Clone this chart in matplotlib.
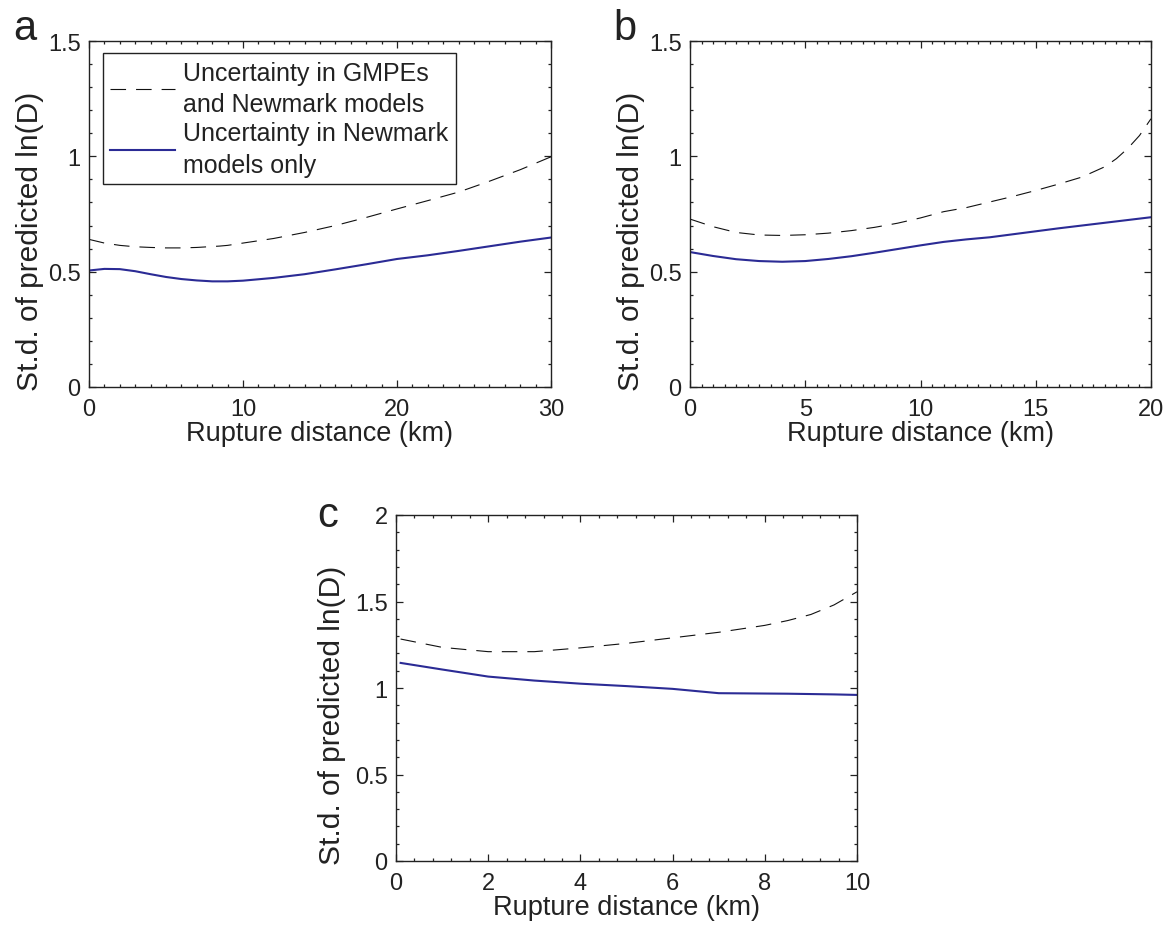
import numpy as np
import matplotlib
matplotlib.use("Agg")
from matplotlib import pyplot as plt
from matplotlib.ticker import MultipleLocator

plt.rcParams['font.family'] = ['Liberation Sans', 'DejaVu Sans']
plt.rcParams['text.color'] = '#222222'
plt.rcParams['axes.labelcolor'] = '#222222'
plt.rcParams['xtick.color'] = '#222222'
plt.rcParams['ytick.color'] = '#222222'

BLUE = '#2b2b95'

# panel a: distances up to 30 km
a_x = [0, 1, 2, 3, 4, 5, 6, 7, 8, 8.5, 9, 10, 12, 14, 16, 18, 20, 22, 24, 26, 28, 30]
a_both = [0.640, 0.624, 0.614, 0.608, 0.605, 0.603, 0.603, 0.605, 0.609, 0.611, 0.614, 0.624, 0.644, 0.670, 0.700, 0.735, 0.772, 0.808, 0.845, 0.892, 0.942, 0.998]
a_newm = [0.505, 0.512, 0.511, 0.502, 0.489, 0.477, 0.468, 0.462, 0.458, 0.458, 0.458, 0.461, 0.473, 0.489, 0.510, 0.532, 0.555, 0.571, 0.590, 0.610, 0.630, 0.648]

# panel b: distances up to 20 km
b_x = [0, 1, 2, 3, 4, 5, 6, 7, 8, 9, 10, 11, 12, 13, 14, 15, 16, 17, 18, 18.5, 19, 19.5, 20]
b_both = [0.728, 0.695, 0.670, 0.659, 0.657, 0.660, 0.667, 0.678, 0.692, 0.710, 0.733, 0.760, 0.778, 0.802, 0.826, 0.852, 0.880, 0.910, 0.955, 0.990, 1.035, 1.090, 1.163]
b_newm = [0.585, 0.568, 0.554, 0.546, 0.543, 0.546, 0.555, 0.567, 0.582, 0.598, 0.614, 0.629, 0.640, 0.649, 0.662, 0.675, 0.688, 0.700, 0.712, 0.718, 0.724, 0.730, 0.736]

# panel c: distances up to 10 km
c_x = [0.1, 1, 2, 3, 4, 5, 6, 7, 8, 8.5, 9, 9.5, 10]
c_both = [1.283, 1.235, 1.210, 1.210, 1.232, 1.258, 1.290, 1.322, 1.362, 1.390, 1.425, 1.480, 1.556]
c_newm = [1.145, 1.107, 1.066, 1.043, 1.025, 1.011, 0.995, 0.970, 0.968, 0.967, 0.965, 0.963, 0.960]

lbl_both = 'Uncertainty in GMPEs\nand Newmark models'
lbl_newm = 'Uncertainty in Newmark\nmodels only'
xlab = 'Rupture distance (km)'
ylab = 'St.d. of predicted ln(D)'

W, H = 1171, 928
fig = plt.figure(figsize=(W / 100, H / 100), dpi=100)


def box(l, t, r, b):
    return [l / W, 1 - b / H, (r - l) / W, (b - t) / H]


def panel(rect, x, both, newm, xmax, xmaj, xmin, ymax, letter, lpos, ylx):
    ax = fig.add_axes(rect)
    ax.plot(x, both, color='#111111', lw=0.8, linestyle=(0, (14, 9)), label=lbl_both)
    ax.plot(x, newm, color=BLUE, lw=1.5, label=lbl_newm)
    ax.set_xlim(0, xmax)
    ax.set_ylim(0, ymax)
    ax.xaxis.set_major_locator(MultipleLocator(xmaj))
    ax.xaxis.set_minor_locator(MultipleLocator(xmin))
    ax.yaxis.set_major_locator(MultipleLocator(0.5))
    ax.yaxis.set_minor_locator(MultipleLocator(0.1))
    ax.set_xticklabels([f'{v:g}' for v in ax.get_xticks()])
    ax.set_yticklabels([f'{v:g}' for v in ax.get_yticks()])
    ax.tick_params(which='both', direction='in', top=True, right=True, labelsize=17, width=0.9)
    ax.tick_params(which='major', length=5, pad=6)
    ax.tick_params(axis='x', which='major', pad=8)
    ax.tick_params(which='minor', length=2.5)
    for s in ax.spines.values():
        s.set_linewidth(1.0)
        s.set_color('#222222')
    ax.set_xlabel(xlab, fontsize=19.5, labelpad=0)
    ax.set_ylabel(ylab, fontsize=21.5)
    # label sits a bit below the axes centre in the original
    ax.yaxis.set_label_coords(ylx, 0.425)
    fig.text(lpos[0] / W, 1 - lpos[1] / H, letter, fontsize=30, ha='left', va='baseline')
    return ax


ax_a = panel(box(89, 42, 551, 388), a_x, a_both, a_newm, 30, 10, 1, 1.5, 'a', (13, 40), -0.098)
ax_b = panel(box(690, 42, 1151, 388), b_x, b_both, b_newm, 20, 5, 0.5, 1.5, 'b', (613, 40), -0.098)
ax_c = panel(box(396, 516, 857, 862), c_x, c_both, c_newm, 10, 2, 0.4, 2, 'c', (317, 527), -0.108)

leg = ax_a.legend(loc='upper left', bbox_to_anchor=(0.030, 0.965), borderaxespad=0,
                  fontsize=18, frameon=True, fancybox=False, framealpha=1,
                  edgecolor='#222222', handlelength=2.6, handletextpad=0.3,
                  labelspacing=0.2, borderpad=0.3)
leg.get_frame().set_linewidth(1.0)
for t in leg.get_texts():
    t.set_linespacing(1.4)

fig.savefig('out.png', dpi=100)
